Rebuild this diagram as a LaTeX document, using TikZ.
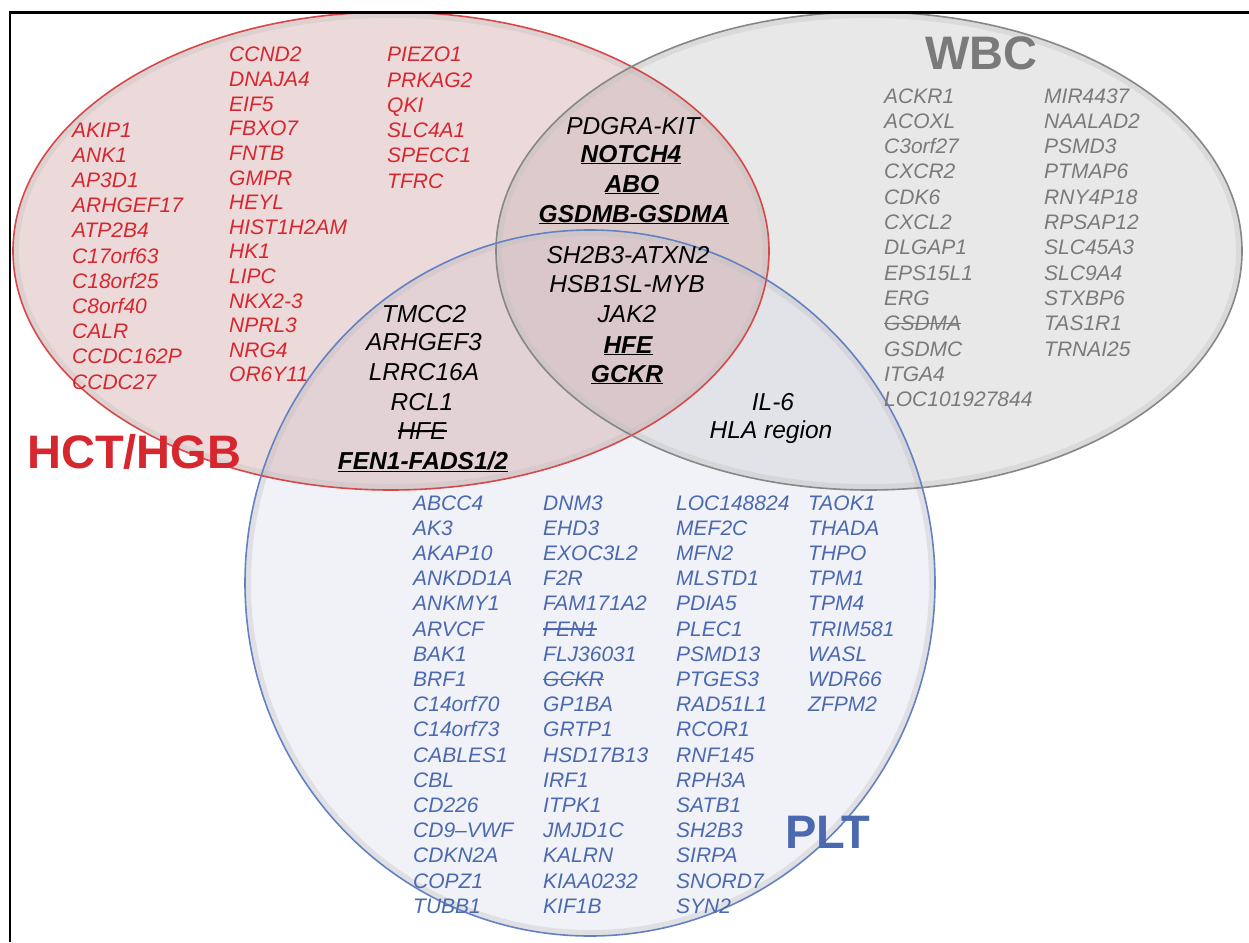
\documentclass[tikz,border=0pt]{standalone}
\usepackage{fontspec}
\setmainfont{Liberation Sans}
\usepackage{xcolor}

\definecolor{hctred}{RGB}{214,38,46}
\definecolor{hctline}{RGB}{217,72,72}
\definecolor{hctfill}{RGB}{200,150,150}
\definecolor{wbcgray}{RGB}{122,122,122}
\definecolor{wbcline}{RGB}{135,135,135}
\definecolor{wbcfill}{RGB}{190,190,190}
\definecolor{pltblue}{RGB}{74,105,174}
\definecolor{pltline}{RGB}{100,130,195}
\definecolor{pltfill}{RGB}{215,215,235}

\tikzset{
  gene/.style={anchor=base west, inner sep=0pt, font=\fontsize{21}{25}\selectfont\itshape},
  hctgene/.style={gene, text=hctred},
  wbcgene/.style={gene, text=wbcgray},
  pltgene/.style={gene, text=pltblue},
  shared/.style={anchor=base, inner sep=0pt, font=\fontsize{24.5}{29}\selectfont\itshape},
  settitle/.style={anchor=base west, inner sep=0pt, font=\fontsize{47}{50}\selectfont\bfseries},
  setfill/.style={fill opacity=0.35},
  setedge/.style={line width=1.6pt}
}
\newcommand{\keygene}[1]{\underline{\textbf{#1}}}
\newcommand{\crossout}[1]{\setbox0\hbox{#1}\rlap{\rule[0.3em]{\wd0}{0.07em}}\box0}

\begin{document}
\begin{tikzpicture}[x=1pt,y=-1pt]
\useasboundingbox (0,0) rectangle (1249,942);

% the three sets
\fill[wbcfill, setfill] (869,251) ellipse [x radius=373pt, y radius=239pt];
\fill[pltfill, setfill] (590,583) ellipse [x radius=345pt, y radius=353pt];
\fill[hctfill, setfill] (391,251) ellipse [x radius=378pt, y radius=239pt];
\draw[black!25, line width=6pt, opacity=0.35] (391,251) ellipse [x radius=375pt, y radius=236pt];
\draw[black!25, line width=6pt, opacity=0.35] (869,251) ellipse [x radius=370pt, y radius=236pt];
\draw[black!25, line width=6pt, opacity=0.35] (590,583) ellipse [x radius=342pt, y radius=350pt];
\draw[hctline, setedge] (391,251) ellipse [x radius=378pt, y radius=239pt];
\draw[wbcline, setedge] (869,251) ellipse [x radius=373pt, y radius=239pt];
\draw[pltline, setedge] (590,583) ellipse [x radius=345pt, y radius=353pt];

% frame
\draw[line width=2.2pt] (10,942) -- (10,12.5) -- (1249,12.5);

% titles
\node[settitle, text=hctred] (hcttitle) at (27,468) {HCT/HGB};
\node[settitle, text=wbcgray] (wbctitle) at (925,70) {WBC};
\node[settitle, text=pltblue] (plttitle) at (785,848) {PLT};

% HCT/HGB only
\foreach \g [count=\i from 0] in {AKIP1,ANK1,AP3D1,ARHGEF17,ATP2B4,C17orf63,C18orf25,C8orf40,CALR,CCDC162P,CCDC27}
  \node[hctgene] (hcta\i) at (72,137+25.2*\i) {\g};
\foreach \g [count=\i from 0] in {CCND2,DNAJA4,EIF5,FBXO7,FNTB,GMPR,HEYL,HIST1H2AM,HK1,LIPC,NKX2-3,NPRL3,NRG4,OR6Y11}
  \node[hctgene] (hctb\i) at (229,62+24.6*\i) {\g};
\foreach \g [count=\i from 0] in {PIEZO1,PRKAG2,QKI,SLC4A1,SPECC1,TFRC}
  \node[hctgene] (hctc\i) at (387,62+25.2*\i) {\g};

% WBC only
\foreach \g [count=\i from 0] in {ACKR1,ACOXL,C3orf27,CXCR2,CDK6,CXCL2,DLGAP1,EPS15L1,ERG,\crossout{GSDMA},GSDMC,ITGA4,LOC101927844}
  \node[wbcgene] (wbca\i) at (884,103+25.3*\i) {\g};
\foreach \g [count=\i from 0] in {MIR4437,NAALAD2,PSMD3,PTMAP6,RNY4P18,RPSAP12,SLC45A3,SLC9A4,STXBP6,TAS1R1,TRNAI25}
  \node[wbcgene] (wbcb\i) at (1044,103+25.3*\i) {\g};

% PLT only
\foreach \g [count=\i from 0] in {ABCC4,AK3,AKAP10,ANKDD1A,ANKMY1,ARVCF,BAK1,BRF1,C14orf70,C14orf73,CABLES1,CBL,CD226,CD9–VWF,CDKN2A,COPZ1,TUBB1}
  \node[pltgene] (plta\i) at (413,510+25.2*\i) {\g};
\foreach \g [count=\i from 0] in {DNM3,EHD3,EXOC3L2,F2R,FAM171A2,\crossout{FEN1},FLJ36031,\crossout{GCKR},GP1BA,GRTP1,HSD17B13,IRF1,ITPK1,JMJD1C,KALRN,KIAA0232,KIF1B}
  \node[pltgene] (pltb\i) at (543,510+25.2*\i) {\g};
\foreach \g [count=\i from 0] in {LOC148824,MEF2C,MFN2,MLSTD1,PDIA5,PLEC1,PSMD13,PTGES3,RAD51L1,RCOR1,RNF145,RPH3A,SATB1,SH2B3,SIRPA,SNORD7,SYN2}
  \node[pltgene] (pltc\i) at (676,510+25.2*\i) {\g};
\foreach \g [count=\i from 0] in {TAOK1,THADA,THPO,TPM1,TPM4,TRIM581,WASL,WDR66,ZFPM2}
  \node[pltgene] (pltd\i) at (808,510+25.2*\i) {\g};

% HCT/HGB and WBC
\node[shared] (hw1) at (633,134) {PDGRA-KIT};
\node[shared] (hw2) at (631,162) {\keygene{NOTCH4}};
\node[shared] (hw3) at (632,192) {\keygene{ABO}};
\node[shared] (hw4) at (634,222) {\keygene{GSDMB-GSDMA}};
% all three
\node[shared] (all1) at (628,263) {SH2B3-ATXN2};
\node[shared] (all2) at (627,292) {HSB1SL-MYB};
\node[shared] (all3) at (627,322) {JAK2};
\node[shared] (all4) at (628,353) {\keygene{HFE}};
\node[shared] (all5) at (627,382) {\keygene{GCKR}};
% HCT/HGB and PLT
\node[shared] (hp1) at (424,322) {TMCC2};
\node[shared] (hp2) at (424,350) {ARHGEF3};
\node[shared] (hp3) at (424,380) {LRRC16A};
\node[shared] (hp4) at (422,410) {RCL1};
\node[shared] (hp5) at (422,439) {\crossout{HFE}};
\node[shared] (hp6) at (423,469) {\keygene{FEN1-FADS1/2}};
% WBC and PLT
\node[shared] (wp1) at (773,410) {IL-6};
\node[shared] (wp2) at (771,438) {HLA region};

\end{tikzpicture}
\end{document}
